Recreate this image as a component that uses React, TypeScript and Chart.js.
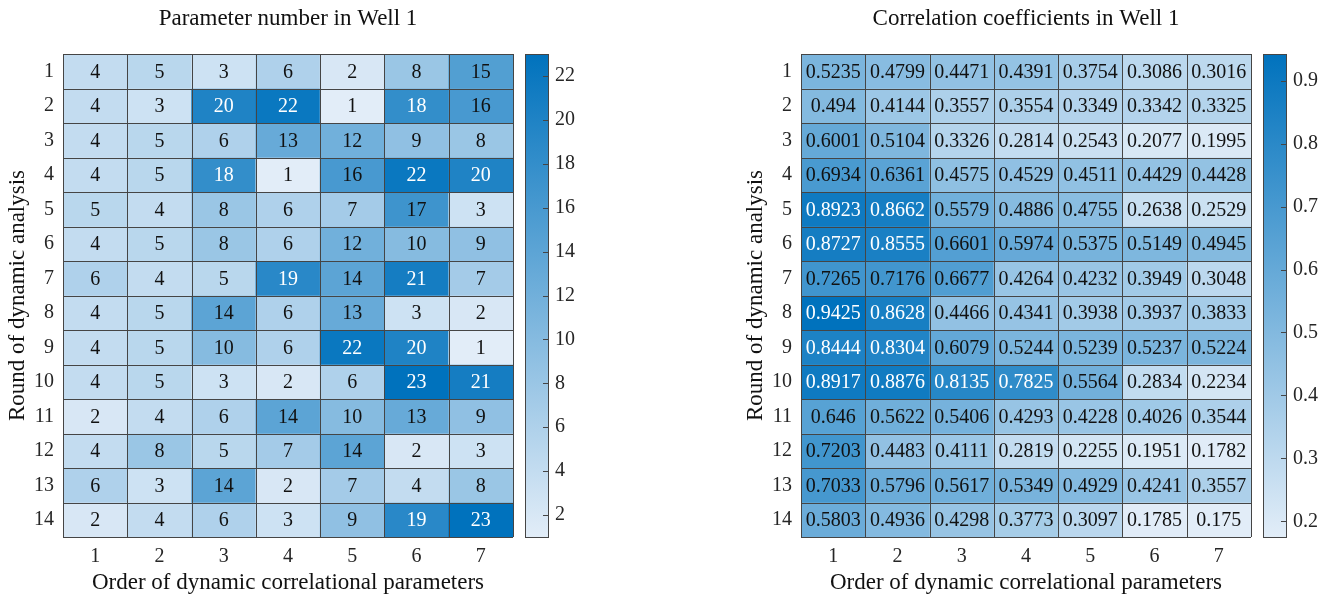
import React, { useEffect, useRef } from "react";
import { Chart, registerables } from "chart.js";

Chart.register(...registerables);

const FONT = '"Liberation Serif", "Times New Roman", serif';

const columnLabels = ["1", "2", "3", "4", "5", "6", "7"];
const roundLabels = [1, 2, 3, 4, 5, 6, 7, 8, 9, 10, 11, 12, 13, 14];

const parameterNumbers: number[][] = [
  [4, 5, 3, 6, 2, 8, 15],
  [4, 3, 20, 22, 1, 18, 16],
  [4, 5, 6, 13, 12, 9, 8],
  [4, 5, 18, 1, 16, 22, 20],
  [5, 4, 8, 6, 7, 17, 3],
  [4, 5, 8, 6, 12, 10, 9],
  [6, 4, 5, 19, 14, 21, 7],
  [4, 5, 14, 6, 13, 3, 2],
  [4, 5, 10, 6, 22, 20, 1],
  [4, 5, 3, 2, 6, 23, 21],
  [2, 4, 6, 14, 10, 13, 9],
  [4, 8, 5, 7, 14, 2, 3],
  [6, 3, 14, 2, 7, 4, 8],
  [2, 4, 6, 3, 9, 19, 23],
];

const correlationCoefficients: number[][] = [
  [0.5235, 0.4799, 0.4471, 0.4391, 0.3754, 0.3086, 0.3016],
  [0.494, 0.4144, 0.3557, 0.3554, 0.3349, 0.3342, 0.3325],
  [0.6001, 0.5104, 0.3326, 0.2814, 0.2543, 0.2077, 0.1995],
  [0.6934, 0.6361, 0.4575, 0.4529, 0.4511, 0.4429, 0.4428],
  [0.8923, 0.8662, 0.5579, 0.4886, 0.4755, 0.2638, 0.2529],
  [0.8727, 0.8555, 0.6601, 0.5974, 0.5375, 0.5149, 0.4945],
  [0.7265, 0.7176, 0.6677, 0.4264, 0.4232, 0.3949, 0.3048],
  [0.9425, 0.8628, 0.4466, 0.4341, 0.3938, 0.3937, 0.3833],
  [0.8444, 0.8304, 0.6079, 0.5244, 0.5239, 0.5237, 0.5224],
  [0.8917, 0.8876, 0.8135, 0.7825, 0.5564, 0.2834, 0.2234],
  [0.646, 0.5622, 0.5406, 0.4293, 0.4228, 0.4026, 0.3544],
  [0.7203, 0.4483, 0.4111, 0.2819, 0.2255, 0.1951, 0.1782],
  [0.7033, 0.5796, 0.5617, 0.5349, 0.4929, 0.4241, 0.3557],
  [0.5803, 0.4936, 0.4298, 0.3773, 0.3097, 0.1785, 0.175],
];

const parameterTicks = [2, 4, 6, 8, 10, 12, 14, 16, 18, 20, 22];
const correlationTicks = [0.2, 0.3, 0.4, 0.5, 0.6, 0.7, 0.8, 0.9];

const LOW = [226, 237, 248];
const HIGH = [0, 114, 189];
const GRID = "#454545";
const TICK_COLOR = "#262626";
const TEXT_COLOR = "#111111";

function mix(t: number): string {
  const c = LOW.map((l, i) => Math.round(l + (HIGH[i] - l) * t));
  return `rgb(${c[0]},${c[1]},${c[2]})`;
}

type PanelSpec = {
  title: string;
  matrix: number[][];
  ticks: number[];
  left: number;
  width: number;
  yAxisWidth: number;
  cbAxisWidth: number;
};

function makeConfig(spec: PanelSpec): any {
  const flat = spec.matrix.flat();
  const vmin = Math.min(...flat);
  const vmax = Math.max(...flat);
  const norm = (v: number) => (v - vmin) / (vmax - vmin);

  const decor = {
    id: "heatmapDecor",
    afterDatasetsDraw(chart: any) {
      const ctx = chart.ctx as CanvasRenderingContext2D;
      const { left, right, top, bottom } = chart.chartArea;
      const xs = chart.scales.x;
      const ys = chart.scales.y;
      const cb = chart.scales.cb;
      ctx.save();
      ctx.strokeStyle = GRID;
      ctx.lineWidth = 1;
      ctx.beginPath();
      for (let i = 0; i <= columnLabels.length; i++) {
        const px = Math.round(xs.getPixelForValue(i - 0.5)) + 0.5;
        ctx.moveTo(px, top);
        ctx.lineTo(px, bottom);
      }
      for (let r = 0; r <= roundLabels.length; r++) {
        const py = Math.round(ys.getPixelForValue(r + 0.5)) + 0.5;
        ctx.moveTo(left, py);
        ctx.lineTo(right, py);
      }
      ctx.stroke();
      ctx.font = `20px ${FONT}`;
      ctx.textAlign = "center";
      ctx.textBaseline = "middle";
      spec.matrix.forEach((row, ri) => {
        const meta = chart.getDatasetMeta(ri);
        row.forEach((v, ci) => {
          const el = meta.data[ci];
          if (!el) return;
          const p = el.getCenterPoint();
          ctx.fillStyle = norm(v) > 0.75 ? "#ffffff" : TEXT_COLOR;
          ctx.fillText(String(v), p.x, p.y + 1);
        });
      });
      const cbL = right + 12;
      const cbR = right + 35;
      const cbT = cb.getPixelForValue(vmax);
      const cbB = cb.getPixelForValue(vmin);
      const g = ctx.createLinearGradient(0, cbT, 0, cbB);
      g.addColorStop(0, mix(1));
      g.addColorStop(1, mix(0));
      ctx.fillStyle = g;
      ctx.fillRect(cbL, cbT, cbR - cbL, cbB - cbT);
      ctx.strokeStyle = GRID;
      ctx.strokeRect(Math.round(cbL) + 0.5, Math.round(cbT) + 0.5, Math.round(cbR - cbL), Math.round(cbB - cbT));
      ctx.beginPath();
      spec.ticks.forEach((t) => {
        const py = Math.round(cb.getPixelForValue(t)) + 0.5;
        ctx.moveTo(Math.round(cbR), py);
        ctx.lineTo(Math.round(cbR) - 5, py);
      });
      ctx.stroke();
      ctx.fillStyle = TEXT_COLOR;
      ctx.font = `23px ${FONT}`;
      ctx.textAlign = "center";
      ctx.textBaseline = "alphabetic";
      ctx.fillText(spec.title, (left + right) / 2, 25);
      ctx.restore();
    },
  };

  return {
    type: "bar",
    data: {
      labels: columnLabels,
      datasets: roundLabels.map((r, ri) => ({
        label: `Round ${r}`,
        data: columnLabels.map(() => [r - 0.5, r + 0.5]),
        backgroundColor: spec.matrix[ri].map((v) => mix(norm(v))),
        borderWidth: 0,
        grouped: false,
        barPercentage: 1,
        categoryPercentage: 1,
      })),
    },
    options: {
      responsive: false,
      animation: false,
      events: [],
      layout: { padding: { top: 35, left: 0, right: 0, bottom: 0 } },
      plugins: {
        legend: { display: false },
        title: { display: false },
        tooltip: { enabled: false },
      },
      scales: {
        x: {
          type: "category",
          offset: true,
          grid: { display: false, drawTicks: false },
          border: { display: false },
          ticks: { font: { family: FONT, size: 20 }, color: TICK_COLOR, padding: 8 },
          title: {
            display: true,
            text: "Order of dynamic correlational parameters",
            font: { family: FONT, size: 23 },
            color: TEXT_COLOR,
            padding: { top: 0, bottom: 7 },
          },
          afterFit: (s: any) => {
            s.height = 67;
          },
        },
        y: {
          type: "linear",
          min: 0.5,
          max: 14.5,
          reverse: true,
          grid: { display: false, drawTicks: false },
          border: { display: false },
          afterBuildTicks: (s: any) => {
            s.ticks = roundLabels.map((v) => ({ value: v }));
          },
          ticks: {
            font: { family: FONT, size: 20 },
            color: TICK_COLOR,
            padding: 9,
            callback: (v: any) => String(v),
          },
          title: {
            display: true,
            text: "Round of dynamic analysis",
            font: { family: FONT, size: 23 },
            color: TEXT_COLOR,
            padding: { top: 4, bottom: 0 },
          },
          afterFit: (s: any) => {
            s.width = spec.yAxisWidth;
          },
        },
        cb: {
          type: "linear",
          position: "right",
          min: vmin,
          max: vmax,
          grid: { display: false, drawTicks: false },
          border: { display: false },
          afterBuildTicks: (s: any) => {
            s.ticks = spec.ticks.map((v) => ({ value: v }));
          },
          ticks: {
            font: { family: FONT, size: 20 },
            color: TICK_COLOR,
            padding: 42,
            callback: (v: any) => String(v),
          },
          afterFit: (s: any) => {
            s.width = spec.cbAxisWidth;
          },
        },
      },
    },
    plugins: [decor],
  };
}

function HeatmapPanel({ spec }: { spec: PanelSpec }) {
  const ref = useRef<HTMLCanvasElement>(null);
  useEffect(() => {
    if (!ref.current) return;
    const chart = new Chart(ref.current, makeConfig(spec));
    return () => chart.destroy();
  }, [spec]);
  return (
    <canvas
      ref={ref}
      width={spec.width}
      height={604}
      style={{ position: "absolute", left: spec.left, top: 0, width: spec.width, height: 604 }}
    />
  );
}

const leftSpec: PanelSpec = {
  title: "Parameter number in Well 1",
  matrix: parameterNumbers,
  ticks: parameterTicks,
  left: 0,
  width: 738,
  yAxisWidth: 63,
  cbAxisWidth: 225,
};

const rightSpec: PanelSpec = {
  title: "Correlation coefficients in Well 1",
  matrix: correlationCoefficients,
  ticks: correlationTicks,
  left: 738,
  width: 587,
  yAxisWidth: 63,
  cbAxisWidth: 74,
};

export default function App() {
  return (
    <div
      style={{
        position: "absolute",
        left: 0,
        top: 0,
        width: 1325,
        height: 604,
        background: "#ffffff",
        overflow: "hidden",
      }}
    >
      <HeatmapPanel spec={leftSpec} />
      <HeatmapPanel spec={rightSpec} />
    </div>
  );
}
